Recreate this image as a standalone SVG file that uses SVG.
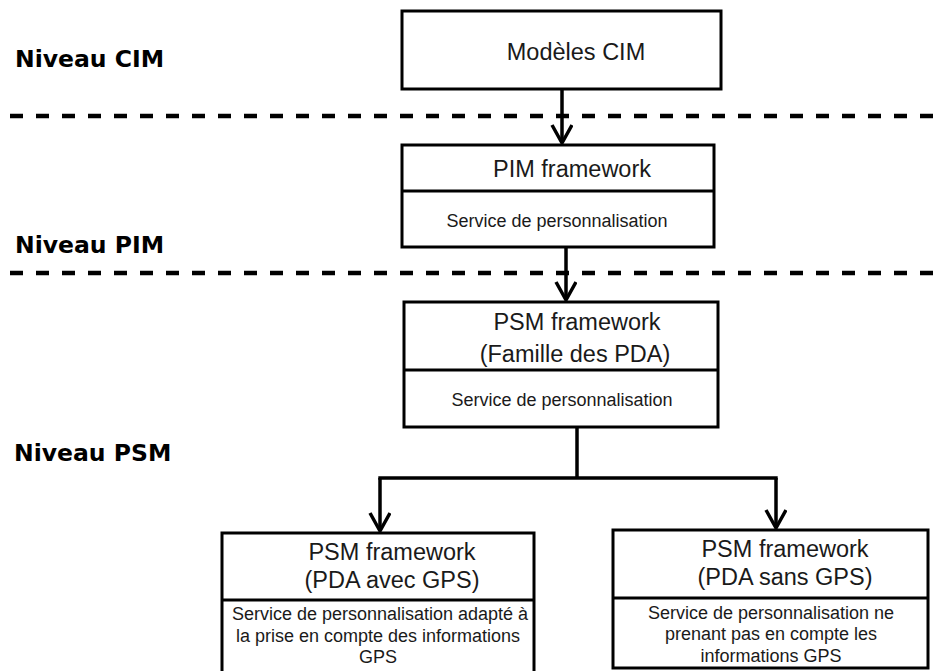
<svg xmlns="http://www.w3.org/2000/svg" width="935" height="671" viewBox="0 0 935 671">
<style>
.box{fill:#fff;stroke:#000;stroke-width:3}
.div{stroke:#000;stroke-width:3}
.big{font-family:"Liberation Sans",Arial,sans-serif;font-size:23.5px;fill:#1a1a1a;text-anchor:middle}
.small{font-family:"Liberation Sans",Arial,sans-serif;font-size:18px;fill:#1a1a1a;text-anchor:middle}
.lvl{font-family:"DejaVu Sans",sans-serif;font-weight:bold;font-size:23.5px;fill:#000}
.dash{stroke:#000;stroke-width:4.5;stroke-dasharray:13 13;fill:none}
.conn{stroke:#000;stroke-width:3.5;fill:none}
</style>
<defs>
<marker id="arr" markerUnits="userSpaceOnUse" markerWidth="26" markerHeight="24" refX="20" refY="11" orient="auto" viewBox="0 0 26 24">
<path d="M2,1 L20,11 L2,21" fill="none" stroke="#000" stroke-width="3.5"/>
</marker>
</defs>
<rect width="935" height="671" fill="#fff"/>
<g id="levels">
<text class="lvl" x="15" y="67">Niveau CIM</text>
<text class="lvl" x="15" y="253">Niveau PIM</text>
<text class="lvl" x="14" y="461">Niveau PSM</text>
<line class="dash" x1="10" y1="116" x2="935" y2="116"/>
<line class="dash" x1="10" y1="273" x2="935" y2="273"/>
</g>
<g id="connectors">
<line class="conn" x1="562" y1="89" x2="562" y2="143" marker-end="url(#arr)"/>
<line class="conn" x1="566" y1="247" x2="566" y2="300" marker-end="url(#arr)"/>
<polyline class="conn" points="577,427 577,478"/>
<line class="conn" x1="378.3" y1="478" x2="777.7" y2="478"/>
<line class="conn" x1="380" y1="478" x2="380" y2="531" marker-end="url(#arr)"/>
<line class="conn" x1="776" y1="478" x2="776" y2="528" marker-end="url(#arr)"/>
</g>
<g id="cim">
<rect class="box" x="402" y="11" width="319" height="78"/>
<text class="big" x="576" y="60">Modèles CIM</text>
</g>
<g id="pim">
<rect class="box" x="402" y="145" width="312" height="102"/>
<line class="div" x1="402" y1="191" x2="714" y2="191"/>
<text class="big" x="572" y="177">PIM framework</text>
<text class="small" x="557" y="227">Service de personnalisation</text>
</g>
<g id="psm">
<rect class="box" x="404" y="302" width="314" height="125"/>
<line class="div" x1="404" y1="370" x2="718" y2="370"/>
<text class="big" x="577" y="330">PSM framework</text>
<text class="big" x="575" y="362">(Famille des PDA)</text>
<text class="small" x="562" y="406">Service de personnalisation</text>
</g>
<g id="psm-gps">
<rect class="box" x="222" y="533" width="312" height="150"/>
<line class="div" x1="222" y1="600" x2="534" y2="600"/>
<text class="big" x="392" y="560">PSM framework</text>
<text class="big" x="392" y="588">(PDA avec GPS)</text>
<text class="small" x="380" y="620">Service de personnalisation adapté à</text>
<text class="small" x="378" y="642">la prise en compte des informations</text>
<text class="small" x="378" y="663">GPS</text>
</g>
<g id="psm-nogps">
<rect class="box" x="613" y="530" width="315" height="138"/>
<line class="div" x1="613" y1="598" x2="928" y2="598"/>
<text class="big" x="785" y="557">PSM framework</text>
<text class="big" x="785" y="585">(PDA sans GPS)</text>
<text class="small" x="771" y="619">Service de personnalisation ne</text>
<text class="small" x="771" y="640">prenant pas en compte les</text>
<text class="small" x="771" y="662">informations GPS</text>
</g>
</svg>
